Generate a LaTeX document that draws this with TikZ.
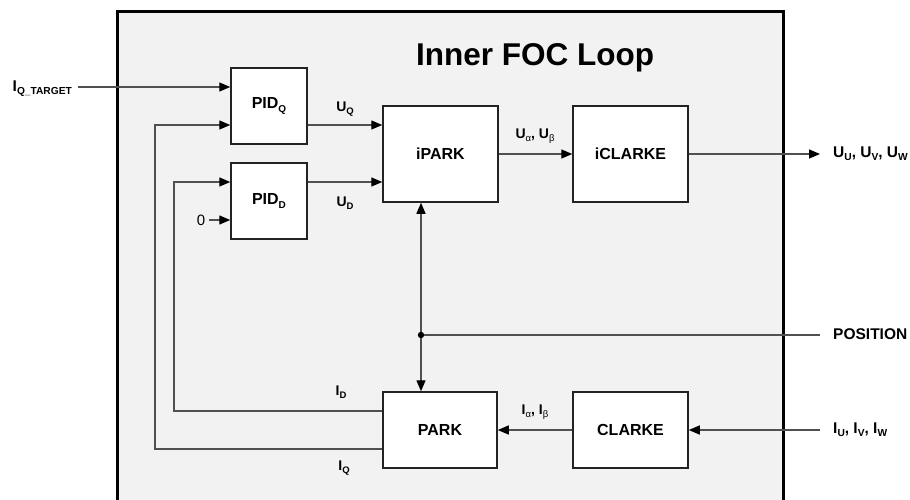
\documentclass[tikz,border=0pt]{standalone}
\usepackage{fontspec}
\setmainfont{Liberation Sans}
\usetikzlibrary{arrows.meta}
\definecolor{bgfill}{RGB}{242,242,242}
\definecolor{wire}{RGB}{80,80,80}
\definecolor{edge}{RGB}{35,35,35}
\def\subsz{9.5}
\newcommand{\lsub}[1]{\raisebox{-0.4ex}{\fontsize{\subsz}{\subsz}\selectfont #1}}
\tikzset{
  block/.style={draw=edge, line width=1.5pt, fill=white, inner sep=0pt,
    font=\fontsize{16}{18}\selectfont\bfseries\def\subsz{10}},
  wireln/.style={draw=wire, line width=1.4pt},
  arr/.style={wireln, -{Triangle[length=11pt,width=9pt,color=black]}},
  darr/.style={wireln, {Triangle[length=11pt,width=9pt,color=black]}-{Triangle[length=11pt,width=9pt,color=black]}},
  sig/.style={inner sep=0pt, font=\fontsize{14}{15}\selectfont\bfseries\def\subsz{9.5}},
  extsig/.style={inner sep=0pt, font=\fontsize{15.5}{17}\selectfont\bfseries\def\subsz{10.2}},
}
\begin{document}
\begin{tikzpicture}[x=1pt,y=-1pt]
\useasboundingbox (0,0) rectangle (910,499);
\clip (0,0) rectangle (910,499);
% outer frame
\draw[fill=bgfill, line width=3pt, draw=black] (117,11) rectangle (783,520);
\node[font=\fontsize{31.5}{34}\selectfont\bfseries, inner sep=0pt] (title) at (535,58) {Inner FOC Loop};
% blocks
\node[block, minimum width=76pt, minimum height=76pt] (PIDQ) at (269,106) {PID\lsub{Q}};
\node[block, minimum width=76pt, minimum height=76pt] (PIDD) at (269,201) {PID\lsub{D}};
\node[block, minimum width=115pt, minimum height=96pt] (iPARK) at (440.5,154) {iPARK};
\node[block, minimum width=115pt, minimum height=96pt] (iCLARKE) at (630.5,154) {iCLARKE};
\node[block, minimum width=114pt, minimum height=76pt] (PARK) at (440,430) {PARK};
\node[block, minimum width=115pt, minimum height=76pt] (CLARKE) at (630.5,430) {CLARKE};
% external labels
\node[extsig, anchor=east] (iqt) at (72,89) {I\lsub{Q\_TARGET}};
\node[extsig, anchor=west] (uout) at (833,154) {U\lsub{U}, U\lsub{V}, U\lsub{W}};
\node[extsig, anchor=west] (pos) at (833,334) {POSITION};
\node[extsig, anchor=west] (iin) at (833,430) {I\lsub{U}, I\lsub{V}, I\lsub{W}};
\node[inner sep=0pt, font=\fontsize{15}{16}\selectfont] (zero) at (201,220) {0};
% signal labels
\node[sig] (uq) at (345,109) {U\lsub{Q}};
\node[sig] (ud) at (345,203) {U\lsub{D}};
\node[sig] (uab) at (535,136) {U\lsub{\textmd{α}}, U\lsub{\textmd{β}}};
\node[sig] (iab) at (535,412) {I\lsub{\textmd{α}}, I\lsub{\textmd{β}}};
\node[sig] (id) at (341,392) {I\lsub{D}};
\node[sig] (iq) at (344,468) {I\lsub{Q}};
% coordinates
\coordinate (tgt) at (78,87);
\coordinate (qfb) at (155,125);
\coordinate (dfb) at (174,182);
\coordinate (dot) at (421,335);
\coordinate (posend) at (820,335);
\coordinate (outend) at (820,154);
\coordinate (inend) at (820,430);
% connectors
\draw[arr] (tgt) -- (tgt -| PIDQ.west);
\draw[arr] (PARK.west |- 0,449) -| (qfb) -- (qfb -| PIDQ.west);
\draw[arr] (PARK.west |- 0,411) -| (dfb) -- (dfb -| PIDD.west);
\draw[arr] (zero.east) ++(4pt,0) -- (PIDD.west |- zero);
\draw[arr] (PIDQ.east |- 0,125) -- (iPARK.west |- 0,125);
\draw[arr] (PIDD.east |- 0,182) -- (iPARK.west |- 0,182);
\draw[arr] (iPARK.east) -- (iCLARKE.west);
\draw[arr] (iCLARKE.east) -- (outend);
\draw[darr] (iPARK.south -| dot) -- (PARK.north -| dot);
\draw[wireln] (dot) -- (posend);
\fill (dot) circle (3.2pt);
\draw[arr] (inend) -- (CLARKE.east);
\draw[arr] (CLARKE.west) -- (PARK.east);
\end{tikzpicture}
\end{document}
